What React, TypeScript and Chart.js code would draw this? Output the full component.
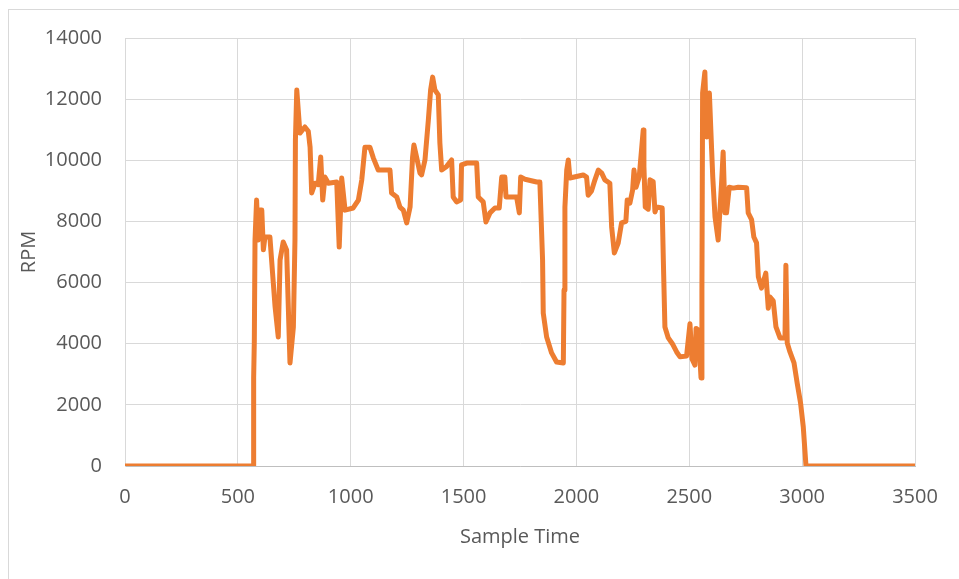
import React, { useEffect, useRef } from "react";
import { Chart, registerables } from "chart.js";

Chart.register(...registerables);

const sampleTime: number[] = [
  0, 569, 570, 573, 576, 583, 590, 598, 606, 613, 620, 630, 642, 657, 665, 679, 687, 701, 716, 731, 746, 753, 755, 761,
  775, 797, 812, 820, 827, 842, 856, 867, 876, 886, 901, 938, 949, 960, 975, 1011, 1034, 1049, 1063,
  1085, 1100, 1122, 1174, 1181, 1204, 1218, 1233, 1248, 1263, 1274, 1280, 1292, 1307, 1314, 1329,
  1344, 1354, 1363, 1373, 1388, 1395, 1403, 1425, 1447, 1454, 1469, 1487, 1491, 1514, 1558, 1565,
  1587, 1599, 1617, 1639, 1658, 1669, 1683, 1688, 1735, 1747, 1753, 1772, 1824, 1838, 1850, 1853,
  1868, 1890, 1912, 1942, 1945, 1949, 1957, 1964, 1971, 2030, 2045, 2052, 2067, 2082, 2097, 2112,
  2126, 2148, 2156, 2168, 2185, 2200, 2219, 2225, 2237, 2249, 2255, 2264, 2278, 2296, 2299, 2305,
  2318, 2326, 2340, 2348, 2355, 2380, 2385, 2392, 2407, 2425, 2444, 2459, 2488, 2503, 2512, 2525,
  2530, 2540, 2552, 2556, 2559, 2569, 2577, 2589, 2599, 2604, 2614, 2628, 2643, 2650, 2658, 2665,
  2677, 2695, 2717, 2754, 2761, 2776, 2786, 2798, 2806, 2820, 2839, 2850, 2857, 2872, 2884, 2902,
  2924, 2928, 2934, 2946, 2964, 2978, 2993, 3005, 3017, 3500,
];

const rpm: number[] = [
  0, 0, 2880, 4120, 7390, 8700, 7390, 8370, 8370, 7070, 7490, 7490, 7490, 5990, 5200, 4220, 6740, 7330, 7070, 3370, 4550, 7390, 10660, 12300,
  10890, 11090, 10950, 10430, 8930, 9250, 9200, 10110, 8700, 9450, 9250, 9290, 7160, 9420, 8370, 8440, 8700, 9360, 10430,
  10430, 10080, 9680, 9680, 8930, 8800, 8470, 8370, 7950, 8470, 10100, 10500, 10100, 9580, 9520, 10010,
  11320, 12300, 12720, 12300, 12140, 10570, 9680, 9800, 10010, 8800, 8640, 8700, 9850, 9910, 9910, 8800,
  8640, 7980, 8280, 8440, 8440, 9450, 9450, 8800, 8800, 8280, 9450, 9380, 9290, 9290, 6740, 5000,
  4220, 3700, 3400, 3370, 5760, 8470, 9680, 10010, 9420, 9520, 9450, 8860, 9000, 9360, 9680, 9580,
  9360, 9250, 7820, 6970, 7290, 7950, 8000, 8700, 8600, 9030, 9680, 9120, 9450, 10990, 9800, 8470,
  8400, 9360, 9300, 8310, 8470, 8440, 6740, 4550, 4190, 4000, 3730, 3570, 3600, 4650, 3500, 3300,
  4500, 4450, 2880, 5760, 12200, 12890, 10760, 12200, 10340, 9450, 8150, 7390, 9250, 10270, 8280, 8280,
  9120, 9090, 9120, 9100, 8280, 8060, 7490, 7300, 6190, 5820, 6310, 5160, 5530, 5400, 4550, 4190,
  4190, 6570, 4020, 3730, 3370, 2710, 2060, 1280, 0, 0,
];

const xTicks: number[] = [0, 500, 1000, 1500, 2000, 2500, 3000, 3500];
const yTicks: number[] = [0, 2000, 4000, 6000, 8000, 10000, 12000, 14000];

const xTitle = "Sample Time";
const yTitle = "RPM";

export default function App() {
  const ref = useRef<HTMLCanvasElement | null>(null);

  useEffect(() => {
    if (!ref.current) return;
    const font = { family: "'Open Sans', sans-serif", size: 20 };
    const textColor = "#595959";
    const gridColor = "#d9d9d9";
    const chart = new Chart(ref.current, {
      type: "scatter",
      data: {
        datasets: [
          {
            label: yTitle,
            data: sampleTime.map((t, i) => ({ x: t, y: rpm[i] })),
            showLine: true,
            borderColor: "#ED7D31",
            backgroundColor: "#ED7D31",
            borderWidth: 5,
            pointRadius: 0,
            tension: 0,
            borderJoinStyle: "round",
            borderCapStyle: "round",
          },
        ],
      },
      options: {
        animation: false,
        responsive: false,
        layout: { padding: { left: 0, top: 38, right: 44, bottom: 0 } },
        plugins: { legend: { display: false }, tooltip: { enabled: false } },
        scales: {
          x: {
            type: "linear",
            min: 0,
            max: 3500,
            afterBuildTicks: (s: any) => {
              s.ticks = xTicks.map((v) => ({ value: v }));
            },
            afterFit: (s: any) => {
              s.height = 113;
            },
            ticks: { font, color: textColor, padding: 19, maxRotation: 0, callback: (v: any) => String(v) },
            grid: { color: gridColor, drawTicks: false },
            border: { color: "#bfbfbf", width: 1 },
            title: {
              display: true,
              text: xTitle,
              font,
              color: textColor,
              padding: { top: 0, bottom: 30 },
            },
          },
          y: {
            type: "linear",
            min: 0,
            max: 14000,
            afterBuildTicks: (s: any) => {
              s.ticks = yTicks.map((v) => ({ value: v }));
            },
            afterFit: (s: any) => {
              s.width = 125;
            },
            ticks: { font, color: textColor, padding: 23, callback: (v: any) => String(v) },
            grid: { color: gridColor, drawTicks: false },
            border: { color: gridColor, width: 1 },
            title: {
              display: true,
              text: yTitle,
              font,
              color: textColor,
              padding: { top: 17, bottom: 0 },
            },
          },
        },
      },
    } as any);
    return () => chart.destroy();
  }, []);

  return (
    <div>
      <div
        style={{
          position: "fixed",
          left: 8,
          top: 9,
          right: 0,
          bottom: 0,
          borderLeft: "1px solid #d9d9d9",
          borderTop: "1px solid #d9d9d9",
          background: "#ffffff",
        }}
      />
      <canvas
        ref={ref}
        width={959}
        height={579}
        style={{ position: "fixed", left: 0, top: 0, width: 959, height: 579 }}
      />
    </div>
  );
}
